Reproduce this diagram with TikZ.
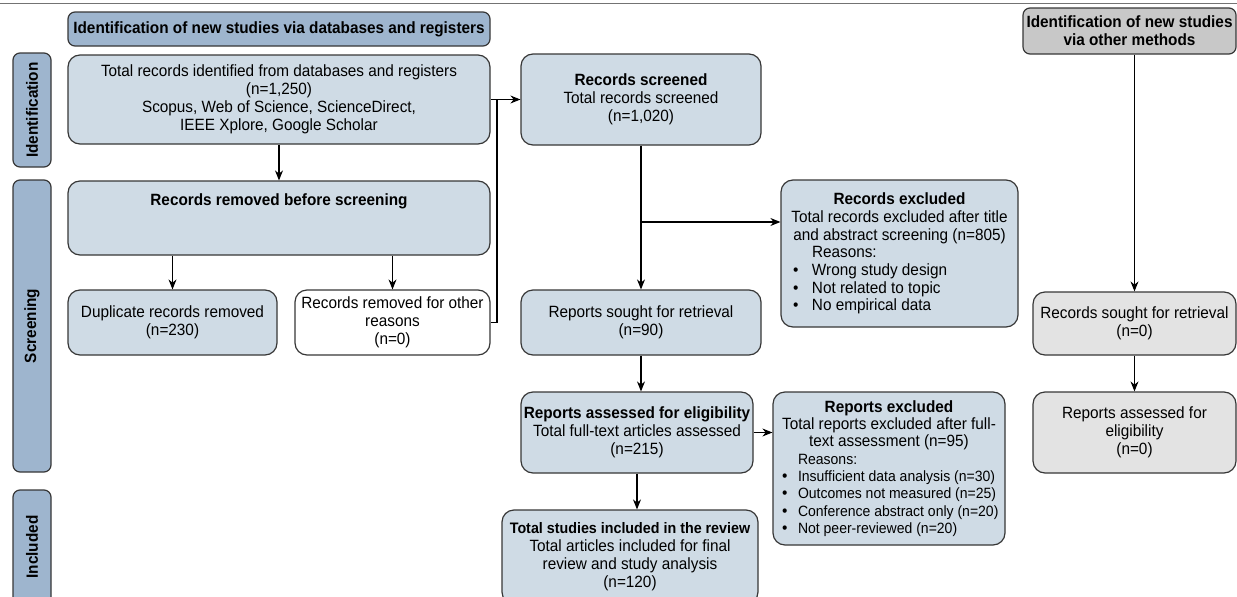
\documentclass[tikz,border=0pt]{standalone}
\usepackage{fontspec}
\setmainfont{Liberation Sans}[FakeStretch=0.94]
\usetikzlibrary{arrows.meta,positioning}

\definecolor{boxblue}{RGB}{207,219,229}
\definecolor{headblue}{RGB}{158,181,206}
\definecolor{boxgrey}{RGB}{227,227,227}
\definecolor{headgrey}{RGB}{200,200,200}
\definecolor{edge}{RGB}{55,55,55}

\newcommand{\boxfont}{\fontsize{16.3}{18}\selectfont}
\newcommand{\listfont}{\fontsize{14.9}{17}\selectfont}
\newcommand{\reason}[3]{\makebox[#1][l]{\makebox[#2][l]{\textbullet}#3}}

\begin{document}
\begin{tikzpicture}[x=1pt, y=-1pt,
        box/.style={draw=edge, fill=boxblue, line width=1.2pt, rounded corners=12pt,
            align=center, font=\boxfont, inner sep=2pt},
        greybox/.style={box, fill=boxgrey},
        head/.style={box, fill=headblue, font=\boxfont\bfseries, rounded corners=7pt},
        phase/.style={head, rotate=90},
        size/.style 2 args={minimum width=#1, minimum height=#2},
        arrow/.style={-{Stealth[length=10pt,width=8pt]}, line width=1.1pt},
        link/.style={line width=1.1pt}
    ]
    \useasboundingbox (0,0) rectangle (1237,597);
    \draw[edge!70, line width=1pt] (0,3) -- (1237,3);
    % Headers and phases
    \node[head, size={422pt}{34pt}] (head1) at (279,29) {Identification of new studies via databases and registers};
    \node[head, fill=headgrey, size={213pt}{46pt}] (head2) at (1129.5,31) {Identification of new studies\\via other methods};
    \node[phase, size={114pt}{38pt}] (ident) at (32,110) {Identification};
    \node[phase, size={292pt}{38pt}] (screen) at (32,326) {Screening};
    \node[phase, size={114pt}{38pt}] (incl) at (32,547) {Included};
    % Nodes
    \node[box, size={422pt}{89pt}] (total) at (279,99.5) {Total records identified from databases and registers\\(n=1,250)\\Scopus, Web of Science, ScienceDirect,\\IEEE Xplore, Google Scholar};
    \node[box, size={422pt}{74pt}] (removed) at (279,218) {};
    \node[font=\boxfont\bfseries] (removedtitle) at (279,201) {Records removed before screening};
    \node[box, size={209pt}{65pt}] (dup) at (172.5,322.5) {Duplicate records removed\\(n=230)};
    \node[box, fill=white, size={195pt}{65pt}] (other) at (392.5,322.5) {Records removed for other\\reasons\\(n=0)};
    \node[box, size={240pt}{91pt}] (screened) at (641,99.5) {\textbf{Records screened}\\Total records screened\\(n=1,020)};
    \node[box, size={237pt}{147pt}, font=\fontsize{16.3}{17.7}\selectfont] (recexcl) at (899.5,253.5) {\textbf{Records excluded}\\Total records excluded after title\\and abstract screening (n=805)\\\makebox[213pt][l]{\hspace{19pt}Reasons:}\\\reason{213pt}{19pt}{Wrong study design}\\\reason{213pt}{19pt}{Not related to topic}\\\reason{213pt}{19pt}{No empirical data}};
    \node[box, size={240pt}{65pt}] (sought) at (641,322.5) {Reports sought for retrieval\\(n=90)};
    \node[box, size={232pt}{81pt}] (assessed) at (637,432.5) {\textbf{Reports assessed for eligibility}\\Total full-text articles assessed\\(n=215)};
    \node[box, size={232pt}{153pt}, font=\fontsize{16.3}{17.3}\selectfont] (repexcl) at (889,468.5) {\textbf{Reports excluded}\\Total reports excluded after full-\\text assessment (n=95)\\\makebox[214pt][l]{\hspace{16pt}\listfont Reasons:}\\\reason{214pt}{16pt}{\listfont Insufficient data analysis (n=30)}\\\reason{214pt}{16pt}{\listfont Outcomes not measured (n=25)}\\\reason{214pt}{16pt}{\listfont Conference abstract only (n=20)}\\\reason{214pt}{16pt}{\listfont Not peer-reviewed (n=20)}};
    \node[box, size={256pt}{94pt}] (included) at (630,557) {\textbf{\fontsize{15.2}{18}\selectfont Total studies included in the review}\\Total articles included for final\\review and study analysis\\(n=120)};
    \node[greybox, size={203pt}{63pt}] (gsought) at (1134.5,323.5) {Records sought for retrieval\\(n=0)};
    \node[greybox, size={203pt}{81pt}] (gassessed) at (1134.5,432.5) {Reports assessed for\\eligibility\\(n=0)};
    \coordinate (merge) at (497,99.5);
    \coordinate (branch) at (641,222);
    % Edges
    \draw[arrow] (total) -- (removed);
    \draw[arrow] (dup.north |- removed.south) -- (dup);
    \draw[arrow] (other.north |- removed.south) -- (other);
    \draw[arrow] (total) -- (screened);
    \draw[link] (other.east) -| (merge);
    \draw[arrow] (screened) -- (sought);
    \draw[arrow] (branch) -- (branch -| recexcl.west);
    \draw[arrow] (sought.south) -- (sought.south |- assessed.north);
    \draw[arrow] (assessed.east) -- (assessed.east -| repexcl.west);
    \draw[arrow] (assessed.south) -- (assessed.south |- included.north);
    \draw[arrow] (gsought.north |- head2.south) -- (gsought);
    \draw[arrow] (gsought) -- (gassessed);
\end{tikzpicture}
\end{document}
